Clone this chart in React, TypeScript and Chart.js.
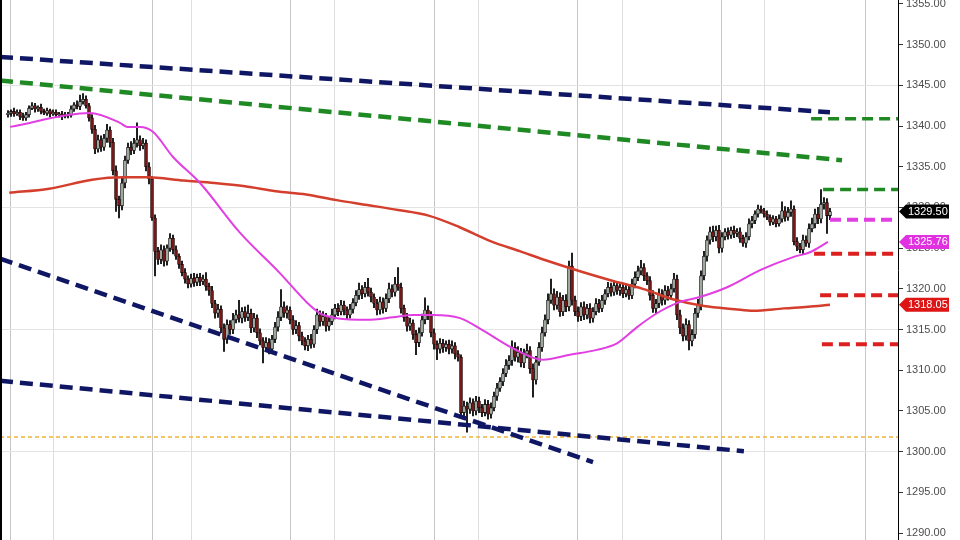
import React, { useEffect, useRef } from "react";
import { Chart, registerables } from "chart.js";

Chart.register(...registerables);

// ---------- DATA ----------
const X_MIN = -2.67;
const X_MAX = 296.67;
const Y_MIN = 1289.14;
const Y_MAX = 1355.49;

const firstOpen = 1341.4;

const closes = [
  1341.6, 1341.8, 1341.5, 1341.7, 1341.2, 1341.0, 1341.4, 1342.2, 1342.5, 1342.1,
  1342.3, 1341.8, 1341.6, 1341.9, 1341.5, 1341.7, 1341.4, 1341.5, 1341.2, 1341.4,
  1341.3, 1342.1, 1342.6, 1342.4, 1343.0, 1343.3, 1342.5, 1341.0, 1339.6, 1337.2,
  1338.3, 1337.4, 1338.5, 1339.5, 1338.0, 1334.5, 1331.0, 1330.2, 1333.0, 1335.8,
  1337.4, 1337.0, 1337.9, 1338.3, 1337.6, 1337.9, 1335.0, 1333.5, 1328.7, 1324.6,
  1323.6, 1324.8, 1323.4, 1325.0, 1326.2, 1324.8, 1324.0, 1323.0, 1322.0, 1321.2,
  1320.6, 1321.3, 1320.8, 1321.4, 1320.9, 1321.2, 1320.3, 1319.8, 1318.2, 1317.0,
  1317.5, 1315.2, 1313.8, 1315.6, 1315.0, 1316.2, 1316.8, 1316.4, 1317.2, 1316.5,
  1317.0, 1315.2, 1316.4, 1314.6, 1313.6, 1312.8, 1313.4, 1312.6, 1313.8, 1315.3,
  1316.5, 1317.8, 1317.0, 1317.4, 1316.2, 1315.0, 1315.5, 1314.2, 1313.6, 1313.0,
  1313.8, 1313.2, 1315.0, 1316.8, 1316.0, 1316.6, 1315.4, 1316.0, 1316.8, 1317.6,
  1317.2, 1318.0, 1317.4, 1316.8, 1317.5, 1318.3, 1319.2, 1319.9, 1319.4, 1320.2,
  1319.6, 1319.0, 1318.2, 1317.4, 1318.4, 1317.6, 1318.8, 1320.0, 1319.6, 1320.6,
  1320.2, 1317.6, 1316.5, 1315.4, 1315.8, 1314.4, 1313.4, 1314.6, 1316.2, 1317.4,
  1316.8, 1314.6, 1313.2, 1312.6, 1313.3, 1312.8, 1313.2, 1312.6, 1313.0, 1312.0,
  1311.6, 1304.8, 1305.6, 1305.2, 1306.0, 1305.0, 1306.2, 1305.4, 1304.8, 1305.8,
  1304.6, 1305.4, 1306.8, 1307.8, 1308.6, 1309.6, 1310.6, 1311.2, 1312.8, 1311.6,
  1312.2, 1310.9, 1312.0, 1312.4, 1310.2, 1308.8, 1311.0, 1312.8, 1314.6, 1316.2,
  1318.6, 1319.4, 1318.0, 1319.0, 1317.2, 1318.6, 1317.8, 1322.8, 1318.6, 1317.2,
  1316.6, 1317.8, 1316.8, 1317.6, 1316.4, 1317.2, 1318.2, 1317.6, 1318.6, 1319.4,
  1320.2, 1319.6, 1320.4, 1319.8, 1320.2, 1319.4, 1319.9, 1319.2, 1320.6, 1321.4,
  1322.2, 1322.6, 1321.6, 1321.0, 1319.2, 1317.6, 1318.2, 1319.4, 1318.6, 1319.8,
  1319.2, 1320.0, 1321.2, 1316.8, 1315.2, 1314.2, 1315.6, 1313.6, 1314.4, 1317.0,
  1318.0, 1321.6, 1324.0, 1326.0, 1327.0, 1326.4, 1327.2, 1325.0, 1326.4, 1327.0,
  1326.6, 1327.2, 1326.8, 1327.0, 1326.2, 1325.6, 1326.4, 1328.0, 1328.4, 1329.2,
  1329.8, 1329.6, 1329.2, 1328.8, 1328.2, 1328.6, 1328.0, 1328.6, 1329.6, 1328.8,
  1329.4, 1329.8, 1325.8, 1325.2, 1324.8, 1326.0, 1325.6, 1327.4, 1328.0, 1329.2,
  1328.6, 1330.4, 1330.6, 1329.0, 1329.5,
];

const wickUp = [
  0.3, 0.2, 0.4, 0.3, 0.3, 0.4, 0.3, 0.3, 0.4, 0.3,
  0.2, 0.4, 0.3, 0.3, 0.2, 0.3, 0.3, 0.2, 0.3, 0.3,
  0.3, 0.4, 0.3, 0.5, 0.8, 0.7, 0.4, 0.3, 0.4, 0.5,
  0.6, 0.5, 0.5, 0.7, 0.4, 0.5, 0.6, 0.4, 0.6, 0.5,
  0.5, 0.7, 0.6, 2.1, 0.5, 0.6, 0.4, 0.5, 0.3, 0.4,
  0.5, 0.6, 0.5, 0.4, 0.6, 0.4, 0.5, 0.3, 0.4, 0.5,
  0.4, 0.5, 0.6, 0.4, 0.5, 0.5, 0.8, 0.4, 0.5, 0.4,
  0.6, 0.4, 0.5, 0.6, 0.5, 0.8, 0.6, 1.8, 0.5, 0.6,
  1.0, 0.5, 0.6, 0.4, 0.5, 0.4, 0.6, 0.5, 0.5, 0.6,
  0.7, 2.1, 0.6, 0.5, 0.4, 0.5, 0.6, 0.4, 0.5, 0.4,
  0.5, 0.6, 0.5, 0.7, 0.5, 0.6, 0.4, 0.6, 0.7, 0.5,
  0.6, 0.6, 0.5, 0.4, 0.6, 0.5, 0.6, 0.8, 0.5, 0.6,
  1.1, 0.5, 0.4, 0.5, 0.6, 0.5, 0.6, 0.7, 0.5, 0.8,
  2.0, 0.5, 0.4, 0.5, 0.6, 0.4, 0.5, 0.6, 0.7, 1.5,
  0.5, 0.4, 0.5, 0.4, 0.6, 0.5, 0.4, 0.5, 0.6, 0.4,
  0.4, 0.3, 0.6, 0.5, 0.6, 0.5, 0.6, 0.5, 0.4, 0.6,
  0.5, 0.6, 0.5, 0.6, 0.5, 0.6, 0.7, 0.6, 0.8, 0.6,
  0.7, 0.5, 0.6, 0.8, 0.5, 0.6, 0.7, 0.6, 0.7, 0.6,
  0.8, 1.8, 0.6, 0.7, 0.5, 0.6, 0.7, 0.6, 1.6, 0.5,
  0.6, 0.5, 0.6, 0.5, 0.6, 0.5, 0.6, 0.5, 0.6, 0.5,
  0.6, 0.5, 0.6, 0.5, 0.4, 0.5, 0.6, 0.5, 0.6, 0.7,
  0.6, 0.9, 0.5, 0.4, 0.5, 0.6, 0.5, 0.6, 0.5, 0.6,
  0.5, 0.6, 0.7, 0.5, 0.6, 0.5, 0.7, 0.5, 0.6, 0.6,
  0.7, 0.6, 0.6, 0.5, 0.6, 0.7, 0.5, 0.6, 0.5, 0.4,
  0.5, 0.4, 0.5, 0.4, 0.5, 0.4, 0.5, 0.6, 0.5, 0.4,
  0.5, 0.4, 0.3, 0.4, 0.3, 0.4, 0.3, 0.5, 1.1, 0.5,
  0.6, 1.0, 0.4, 0.5, 0.4, 0.6, 0.5, 0.6, 0.7, 0.6,
  0.8, 1.8, 0.6, 0.5, 0.4,
];

const wickDown = [
  0.3, 0.4, 0.3, 0.2, 0.4, 0.3, 0.3, 0.3, 0.2, 0.4,
  0.3, 0.3, 0.2, 0.3, 0.4, 0.2, 0.3, 0.3, 0.4, 0.2,
  0.3, 0.2, 0.3, 0.3, 0.4, 0.3, 0.3, 0.4, 0.5, 0.6,
  0.4, 0.5, 0.4, 0.5, 0.6, 0.5, 1.5, 1.5, 0.5, 0.6,
  0.4, 0.5, 0.4, 0.5, 0.6, 0.4, 0.5, 0.6, 0.3, 3.0,
  0.6, 0.5, 0.6, 0.5, 0.4, 0.5, 0.4, 0.5, 0.4, 0.5,
  0.5, 0.4, 0.5, 0.4, 0.5, 0.4, 0.5, 0.6, 0.5, 0.6,
  0.5, 0.6, 1.5, 0.5, 0.6, 0.5, 0.4, 0.5, 0.6, 0.5,
  0.4, 0.6, 0.5, 0.6, 0.5, 1.9, 0.5, 0.6, 0.5, 0.4,
  0.5, 0.4, 0.5, 0.6, 0.5, 0.6, 0.5, 0.6, 0.5, 0.5,
  0.6, 0.5, 0.4, 0.5, 0.6, 0.5, 0.6, 0.5, 0.4, 0.5,
  0.5, 0.4, 0.6, 0.5, 0.4, 0.5, 0.4, 0.5, 0.6, 0.4,
  0.5, 0.6, 0.5, 0.6, 0.5, 0.6, 0.4, 0.5, 0.6, 0.5,
  0.4, 0.6, 0.5, 0.6, 0.5, 0.6, 1.5, 0.5, 0.4, 0.5,
  0.6, 0.5, 0.6, 1.3, 0.5, 0.6, 0.5, 0.6, 0.5, 0.6,
  0.5, 0.6, 0.5, 2.8, 0.5, 0.6, 0.5, 0.6, 0.5, 0.4,
  0.6, 0.5, 0.4, 0.5, 0.4, 0.5, 0.4, 0.5, 0.6, 0.5,
  0.6, 0.5, 0.6, 0.5, 0.6, 2.1, 0.5, 0.4, 0.5, 0.4,
  0.5, 0.4, 0.6, 0.5, 0.6, 0.5, 0.6, 0.5, 0.6, 0.5,
  0.6, 0.5, 0.6, 0.5, 0.6, 0.5, 0.4, 0.5, 0.4, 0.5,
  0.4, 0.5, 0.4, 0.5, 0.6, 0.5, 0.4, 0.5, 0.4, 0.5,
  0.4, 0.5, 0.6, 0.5, 0.6, 0.5, 0.6, 0.5, 0.6, 0.5,
  0.6, 0.5, 0.4, 0.6, 0.7, 0.6, 0.5, 1.1, 0.6, 0.5,
  0.5, 0.6, 0.5, 0.6, 0.5, 0.6, 0.5, 0.6, 0.5, 0.4,
  0.5, 0.4, 0.5, 0.4, 0.5, 0.4, 0.5, 0.4, 0.5, 0.4,
  0.4, 0.3, 0.4, 0.3, 0.4, 0.3, 0.4, 0.3, 0.4, 0.5,
  0.4, 0.5, 0.4, 0.5, 0.4, 0.5, 0.4, 0.5, 0.4, 0.5,
  0.6, 0.5, 0.6, 2.2, 0.5,
];

// fast moving average (magenta) sampled values
const maFastX = [0.7, 27.3, 37.3, 39.7, 44, 48.3, 55, 64, 77.3, 90.7, 99.7, 104, 109.7, 119.7, 128.3, 135, 141.7, 150.7, 158.3, 168.3, 178.3, 187.3, 196.3, 203, 209.7, 216.3, 224, 229.7, 239.7, 250.7, 261.7, 267.3, 273.3];
const maFastY = [1339.9, 1341.6, 1340.4, 1339.9, 1339.9, 1339.3, 1336.2, 1333.0, 1326.9, 1321.9, 1318.3, 1317.0, 1316.4, 1316.2, 1316.5, 1316.8, 1316.8, 1316.4, 1314.9, 1312.7, 1311.3, 1311.9, 1312.5, 1313.3, 1315.3, 1317.0, 1318.4, 1318.9, 1320.2, 1322.3, 1323.9, 1324.5, 1325.76];

// slow moving average (red) sampled values
const maSlowX = [0.4, 13.7, 28, 38.2, 46.3, 58.6, 68.8, 79, 89.2, 99.4, 109.6, 119.8, 130, 140.2, 150.4, 160.6, 170.8, 181, 191.2, 201.4, 211.6, 221.9, 232, 242.3, 248.4, 258.6, 266.7, 274];
const maSlowY = [1331.8, 1332.3, 1333.4, 1333.7, 1333.7, 1333.3, 1333.0, 1332.6, 1332.0, 1331.6, 1330.9, 1330.3, 1329.7, 1329.0, 1327.6, 1325.9, 1324.6, 1323.3, 1322.1, 1321.0, 1320.0, 1318.7, 1317.9, 1317.5, 1317.3, 1317.6, 1317.8, 1318.05];

// trend lines: [startIndex, startPrice, endIndex, endPrice]
const navyUpperLine = [X_MIN, 1348.5, 274, 1341.7];
const greenUpperLine = [X_MIN, 1345.6, 278, 1335.8];
const navySteepLine = [X_MIN, 1323.7, 195, 1298.7];
const navyLowerLine = [X_MIN, 1308.7, 245.3, 1300.05];
const supportLevel = 1301.8;

// short horizontal levels on the right: [startIndex, price]
const greenLevels = [[267.7, 1340.9], [271.7, 1332.2]];
const magentaLevels = [[274, 1328.5]];
const redLevels = [[268.7, 1324.3], [270.7, 1319.2], [271.3, 1313.2]];

const yTicks = [1290, 1295, 1300, 1305, 1310, 1315, 1320, 1325, 1330, 1335, 1340, 1345, 1350, 1355];
const yGridLevels = [1300, 1315, 1330, 1345];
const xGridMajor = [0.67, 48.33, 94.33, 142.33, 190, 238, 286];
const xGridMinor = [15, 61.33, 108.67, 156.67, 204.67, 252.33];

// ---------- COLORS ----------
const NAVY = "#0f1764";
const GREEN = "#1f8a24";
const MAGENTA = "#e23fe2";
const RED = "#dc2020";
const MA_RED = "#d43e2c";
const ORANGE = "#f1b43a";

function lineDs(pts: number[], color: string, width: number, dash: number[]) {
  return {
    type: "line" as const,
    data: [
      { x: pts[0], y: pts[1] },
      { x: pts[2], y: pts[3] },
    ],
    borderColor: color,
    borderWidth: width,
    borderDash: dash,
    pointRadius: 0,
    fill: false,
    order: 0,
  };
}

export default function App() {
  const ref = useRef<HTMLCanvasElement | null>(null);

  useEffect(() => {
    document.body.style.margin = "0";
    if (!ref.current) return;

    const opens = closes.map((c, i) => (i === 0 ? firstOpen : closes[i - 1]));
    const bodies = closes.map((c, i) => {
      const o = opens[i];
      if (Math.abs(o - c) < 0.08) {
        const m = (o + c) / 2;
        return { x: i, y: [m - 0.06, m + 0.06] };
      }
      return { x: i, y: [o, c] };
    });
    const wicks = closes.map((c, i) => {
      const o = opens[i];
      return { x: i, y: [Math.min(o, c) - wickDown[i], Math.max(o, c) + wickUp[i]] };
    });
    const bodyFill = closes.map((c, i) => (c >= opens[i] ? "#9ea89e" : "#761818"));
    const bodyBorder = closes.map((c, i) => (c >= opens[i] ? "#111111" : "#220404"));

    const datasets: any[] = [
      lineDs(navyUpperLine, NAVY, 4.5, [13, 7]),
      lineDs(greenUpperLine, GREEN, 4.5, [13, 7]),
      lineDs(navySteepLine, NAVY, 4.5, [13, 7]),
      lineDs(navyLowerLine, NAVY, 4.5, [13, 7]),
      lineDs([X_MIN, supportLevel, X_MAX, supportLevel], ORANGE, 1.5, [4, 3]),
      ...greenLevels.map((l) => lineDs([l[0], l[1], X_MAX, l[1]], GREEN, 3.5, [11, 6])),
      ...magentaLevels.map((l) => lineDs([l[0], l[1], X_MAX, l[1]], MAGENTA, 4, [11, 6])),
      ...redLevels.map((l) => lineDs([l[0], l[1], X_MAX, l[1]], RED, 4, [11, 6])),
      {
        type: "line",
        data: maFastX.map((x, i) => ({ x, y: maFastY[i] })),
        borderColor: MAGENTA,
        borderWidth: 2,
        pointRadius: 0,
        cubicInterpolationMode: "monotone",
        fill: false,
        order: 0,
      },
      {
        type: "line",
        data: maSlowX.map((x, i) => ({ x, y: maSlowY[i] })),
        borderColor: MA_RED,
        borderWidth: 2.5,
        pointRadius: 0,
        cubicInterpolationMode: "monotone",
        fill: false,
        order: 0,
      },
      {
        type: "bar",
        data: bodies,
        backgroundColor: bodyFill,
        borderColor: bodyBorder,
        borderWidth: 0.8,
        borderSkipped: false,
        barThickness: 3,
        grouped: false,
        order: 1,
      },
      {
        type: "bar",
        data: wicks,
        backgroundColor: "#101010",
        borderWidth: 0,
        barThickness: 1.2,
        grouped: false,
        order: 2,
      },
    ];

    const priceTags = [
      { value: closes[closes.length - 1], color: "#000000" },
      { value: maFastY[maFastY.length - 1], color: "#e030e0" },
      { value: maSlowY[maSlowY.length - 1], color: "#dd1515" },
    ];

    const tagPlugin = {
      id: "tags",
      afterDraw(chart: any) {
        const ys = chart.scales.y;
        const ctx = chart.ctx;
        const left = chart.chartArea.right + 1;
        ctx.save();
        ctx.font = "11px 'Liberation Sans', Arial, sans-serif";
        ctx.textBaseline = "middle";
        ctx.textAlign = "left";
        for (const t of priceTags) {
          const y = ys.getPixelForValue(t.value);
          ctx.beginPath();
          ctx.moveTo(left, y);
          ctx.lineTo(left + 7, y - 7);
          ctx.lineTo(left + 50, y - 7);
          ctx.lineTo(left + 50, y + 7);
          ctx.lineTo(left + 7, y + 7);
          ctx.closePath();
          ctx.fillStyle = t.color;
          ctx.fill();
          ctx.fillStyle = "#ffffff";
          ctx.fillText(t.value.toFixed(2), left + 9, y + 0.5);
        }
        ctx.restore();
      },
    };

    const chart = new Chart(ref.current, {
      type: "bar",
      data: { datasets },
      plugins: [tagPlugin],
      options: {
        animation: false,
        responsive: false,
        devicePixelRatio: 1,
        layout: { padding: 0 },
        plugins: { legend: { display: false }, tooltip: { enabled: false } },
        scales: {
          x: {
            type: "linear",
            min: X_MIN,
            max: X_MAX,
            offset: false,
            afterBuildTicks: (scale: any) => {
              scale.ticks = [...xGridMajor, ...xGridMinor].map((v) => ({ value: v }));
            },
            ticks: { display: false },
            grid: {
              offset: false,
              drawTicks: false,
              color: (c: any) =>
                c.tick && xGridMajor.includes(c.tick.value) ? "#c6c6c6" : "#dedede",
            },
            border: { display: false },
          },
          y: {
            type: "linear",
            position: "right",
            min: Y_MIN,
            max: Y_MAX,
            afterBuildTicks: (scale: any) => {
              scale.ticks = yTicks.map((v) => ({ value: v }));
            },
            afterFit: (scale: any) => {
              scale.width = 62;
              scale.paddingTop = 0;
              scale.paddingBottom = 0;
            },
            ticks: {
              color: "#4d4d4d",
              padding: 3,
              font: { family: "'Liberation Sans', Arial, sans-serif", size: 11 },
              callback: (v: any) => Number(v).toFixed(2),
            },
            grid: {
              drawTicks: true,
              tickLength: 5,
              tickColor: "#333333",
              color: (c: any) =>
                c.tick && yGridLevels.includes(c.tick.value) ? "#e3e3e3" : "rgba(0,0,0,0)",
            },
            border: { display: true, color: "#000000", width: 1 },
          },
        },
      },
    } as any);

    return () => chart.destroy();
  }, []);

  return (
    <div style={{ position: "relative", width: 960, height: 540, background: "#fff" }}>
      <canvas ref={ref} width={960} height={540} style={{ display: "block" }} />
      <div style={{ position: "absolute", left: 0, top: 0, width: 2, height: 540, background: "#000" }} />
    </div>
  );
}
